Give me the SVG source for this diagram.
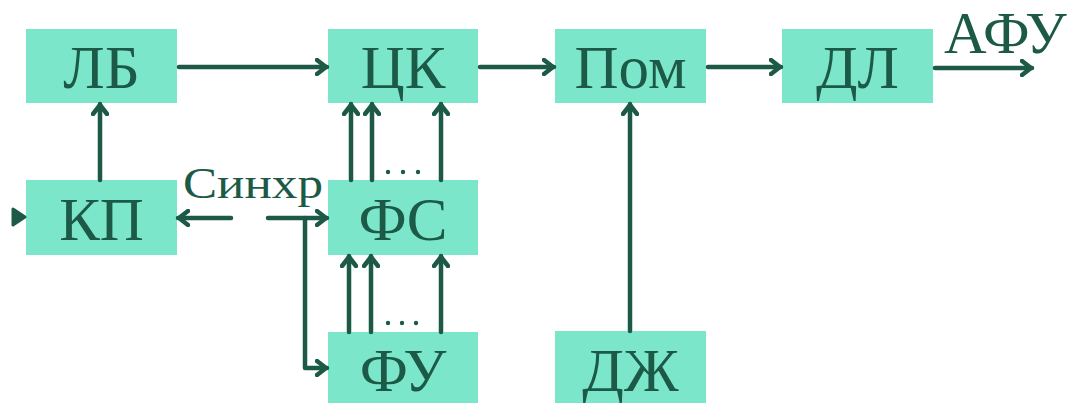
<svg xmlns="http://www.w3.org/2000/svg" width="1072" height="403" viewBox="0 0 1072 403">
<style>
.box{fill:#7be6ca}
.t{font-family:"Liberation Serif","Times New Roman",serif;font-size:61px;fill:#1c5a47;text-anchor:middle}
.s{font-family:"Liberation Serif","Times New Roman",serif;font-size:44px;fill:#1c5a47}
.c{fill:none;stroke:#1c5a47;stroke-width:4.5;stroke-linecap:round;stroke-linejoin:round}
.dot{fill:#1c5a47}
</style>
<defs>
<marker id="a" viewBox="0 0 13 18" refX="12" refY="9" markerWidth="13" markerHeight="18" markerUnits="userSpaceOnUse" orient="auto">
<path d="M2,2 L11,9 L2,16" fill="none" stroke="#1c5a47" stroke-width="4.5" stroke-linecap="round" stroke-linejoin="round"/>
</marker>
</defs>
<rect width="1072" height="403" fill="#ffffff"/>
<g id="n-lb"><rect class="box" x="26" y="29" width="151" height="74"/><text class="t" x="101.5" y="88">ЛБ</text></g>
<g id="n-ck"><rect class="box" x="328" y="29" width="150" height="74"/><text class="t" x="403" y="88">ЦК</text></g>
<g id="n-pom"><rect class="box" x="555" y="29" width="151" height="74"/><text class="t" x="630.5" y="88">Пом</text></g>
<g id="n-dl"><rect class="box" x="782" y="29" width="151" height="74"/><text class="t" x="857.5" y="88">ДЛ</text></g>
<g id="n-kp"><rect class="box" x="26" y="180" width="151" height="75"/><text class="t" x="101.5" y="240">КП</text></g>
<g id="n-fs"><rect class="box" x="328" y="180" width="150" height="75"/><text class="t" x="403" y="240">ФС</text></g>
<g id="n-fu"><rect class="box" x="328" y="332" width="150" height="76"/><text class="t" x="403" y="391">ФУ</text></g>
<g id="n-dzh"><rect class="box" x="555" y="331" width="151" height="77"/><text class="t" x="630.5" y="391">ДЖ</text></g>
<g id="connectors">
<line class="c" x1="179" y1="67" x2="327" y2="67" marker-end="url(#a)"/>
<line class="c" x1="480" y1="67" x2="554" y2="67" marker-end="url(#a)"/>
<line class="c" x1="708" y1="67" x2="781" y2="67" marker-end="url(#a)"/>
<line class="c" x1="935" y1="68" x2="1032" y2="68" marker-end="url(#a)"/>
<text class="s" x="944" y="53" style="font-size:59px">АФУ</text>
<line class="c" x1="100" y1="180" x2="100" y2="104" marker-end="url(#a)"/>
<line class="c" x1="630" y1="331" x2="630" y2="104" marker-end="url(#a)"/>
<line class="c" x1="351" y1="180" x2="351" y2="104" marker-end="url(#a)"/>
<line class="c" x1="372" y1="180" x2="372" y2="104" marker-end="url(#a)"/>
<line class="c" x1="441" y1="180" x2="441" y2="104" marker-end="url(#a)"/>
<line class="c" x1="349" y1="332" x2="349" y2="256" marker-end="url(#a)"/>
<line class="c" x1="371" y1="332" x2="371" y2="256" marker-end="url(#a)"/>
<line class="c" x1="441" y1="332" x2="441" y2="256" marker-end="url(#a)"/>
<circle class="dot" cx="388" cy="172" r="2.2"/><circle class="dot" cx="403" cy="172" r="2.2"/><circle class="dot" cx="418" cy="172" r="2.2"/>
<circle class="dot" cx="388" cy="323" r="2.2"/><circle class="dot" cx="402" cy="323" r="2.2"/><circle class="dot" cx="416" cy="323" r="2.2"/>
<path d="M13,209 L13,225 L25,217 Z" fill="#1c5a47" stroke="#1c5a47" stroke-width="3" stroke-linejoin="round"/>
<line class="c" x1="231" y1="218" x2="178" y2="218" marker-end="url(#a)"/>
<line class="c" x1="268" y1="218" x2="327" y2="218" marker-end="url(#a)"/>
<polyline class="c" points="305,218 305,368 327,368" marker-end="url(#a)"/>
<text class="s" x="183" y="198" textLength="140" lengthAdjust="spacingAndGlyphs">Синхр</text>
</g>
</svg>
